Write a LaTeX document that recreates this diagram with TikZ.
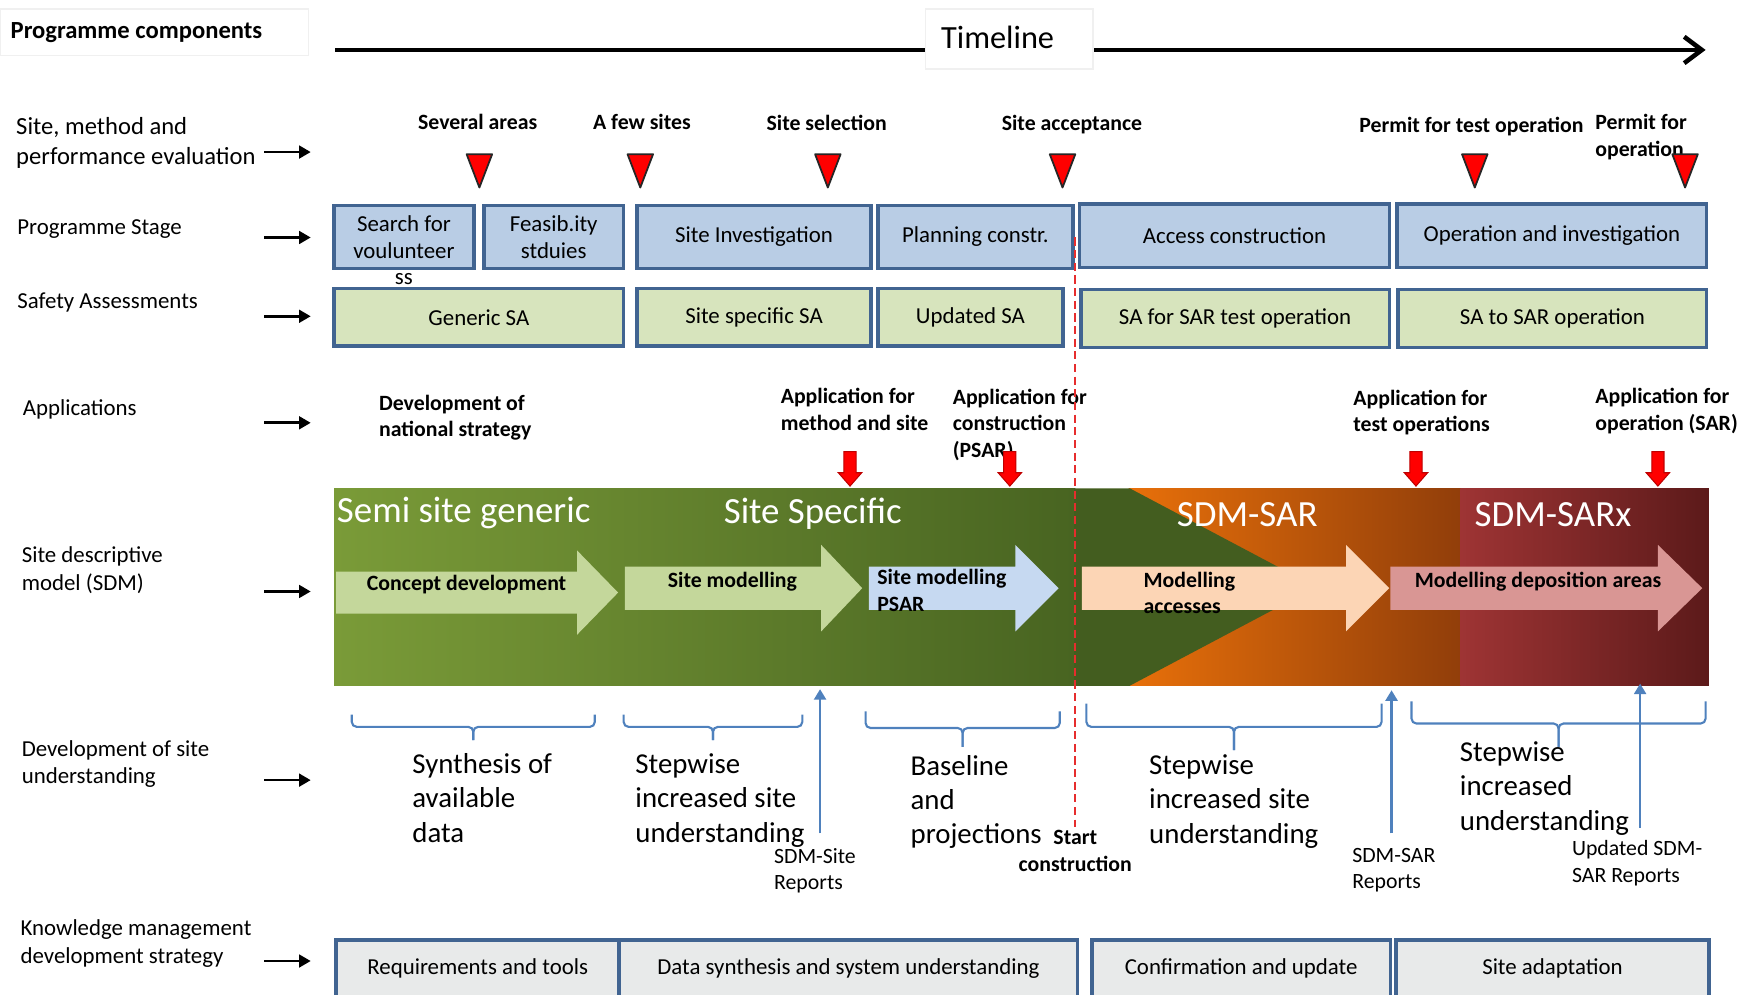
\documentclass[tikz,border=0pt]{standalone}
\usepackage{fontspec}
\setmainfont{Carlito}
\usetikzlibrary{arrows.meta}

\definecolor{stagefill}{RGB}{185,205,229}
\definecolor{boxedge}{RGB}{65,100,145}
\definecolor{safefill}{RGB}{215,228,189}
\definecolor{kmfill}{RGB}{232,234,234}
\definecolor{bracecol}{RGB}{79,129,189}
\definecolor{grnL}{RGB}{122,155,56}
\definecolor{grnD}{RGB}{72,100,33}
\definecolor{grnX}{RGB}{67,93,31}
\definecolor{orgL}{RGB}{232,112,10}
\definecolor{orgD}{RGB}{145,62,10}
\definecolor{redL}{RGB}{158,52,52}
\definecolor{redD}{RGB}{92,26,26}
\definecolor{arrGreen}{RGB}{196,215,155}
\definecolor{arrBlue}{RGB}{198,217,241}
\definecolor{arrPeach}{RGB}{252,213,181}
\definecolor{arrPink}{RGB}{217,150,148}
\definecolor{dashred}{RGB}{230,45,45}

% one drawing unit in cm
\newcommand{\pxu}{0.011097}

% rectangular node given by its corners: [style]{name}{x1}{y1}{x2}{y2}{text}
\newcommand{\sdbox}[7][]{%
  \pgfmathsetmacro\sdcx{(#3+#5)/2}%
  \pgfmathsetmacro\sdcy{(#4+#6)/2}%
  \pgfmathsetmacro\sdw{(#5-#3)*\pxu}%
  \pgfmathsetmacro\sdh{(#6-#4)*\pxu}%
  \node[#1,minimum width=\sdw cm,minimum height=\sdh cm] (#2) at (\sdcx,\sdcy) {#7};}

% right-pointing block arrow: {fill}{x start}{x head}{x tip}{y centre}{shaft half}{head half}
\newcommand{\blockarrow}[7]{%
  \fill[#1] (#2,#5-#6) -- (#3,#5-#6) -- (#3,#5-#7) -- (#4,#5) -- (#3,#5+#7)
    -- (#3,#5+#6) -- (#2,#5+#6) -- cycle;}

% small red downward arrow above the SDM band
\newcommand{\appdrop}[1]{%
  \draw[appdrop] (#1-5.5,407) -- (#1+5.5,407) -- (#1+5.5,426) -- (#1+10.5,426)
    -- (#1,438) -- (#1-10.5,426) -- (#1-5.5,426) -- cycle;}

% red milestone triangle
\newcommand{\milestone}[1]{%
  \draw[mstri] (#1-11.5,139) -- (#1+11.5,139) -- (#1,169) -- cycle;}

% downward brace: {x left}{x right}{y ends}{y bar}{y tip}
\newcommand{\downbrace}[5]{%
  \pgfmathsetmacro\brmid{(#1+#2)/2}%
  \draw[brc] (#1,#3) -- (#1,#4) -- (\brmid,#4) -- (\brmid,#5);
  \draw[brc] (#2,#3) -- (#2,#4) -- (\brmid,#4) -- (\brmid,#5);}

\begin{document}
% multi-line text nodes are placed by the baseline of their last line
\begin{tikzpicture}[x=0.011097cm, y=-0.011097cm,
  lblA/.style={font=\fontsize{7}{8.5}\selectfont, align=left, inner sep=0pt, anchor=base west},
  lbl/.style={font=\fontsize{6.5}{7.8}\selectfont, align=left, inner sep=0pt, anchor=base west},
  lblbold/.style={font=\bfseries\fontsize{7}{8.5}\selectfont, inner sep=0pt, anchor=base west},
  msl/.style={font=\bfseries\fontsize{6.2}{7.55}\selectfont, inner sep=0pt, anchor=base},
  mslL/.style={msl, anchor=base west, align=left},
  stagebox/.style={draw=boxedge, fill=stagefill, line width=1pt, inner sep=0pt,
    font=\fontsize{6.5}{7.6}\selectfont, align=center},
  safebox/.style={stagebox, fill=safefill},
  kmbox/.style={stagebox, fill=kmfill},
  hdrbox/.style={draw=black!6, fill=white, inner sep=0pt},
  rowarr/.style={-{Triangle[length=3.3pt,width=3.6pt]}, line width=0.75pt},
  tlarr/.style={-{Straight Barb[length=5pt,width=7.5pt]}, line width=1.3pt},
  mstri/.style={fill=red, draw=black!85, line width=0.5pt, line join=round},
  appdrop/.style={fill=red, draw=red!75!black, line width=0.3pt},
  brc/.style={draw=bracecol, line width=0.6pt, rounded corners=1.4pt},
  reparr/.style={draw=bracecol, line width=0.7pt, -{Triangle[length=3pt,width=3.4pt]}},
  startline/.style={draw=dashred, line width=0.6pt, dash pattern=on 2.3pt off 1.3pt},
  bandhdr/.style={text=white, font=\fontsize{10.5}{12.6}\selectfont, inner sep=0pt},
  txtbig/.style={font=\fontsize{8.2}{9.8}\selectfont, align=left, inner sep=0pt, anchor=base west},
  txtrep/.style={font=\fontsize{6.2}{7.55}\selectfont, align=left, inner sep=0pt, anchor=base west}]

\useasboundingbox (0,0) rectangle (1568,896);
\clip (0,0) rectangle (1568,896);

% ---------- header ----------
\sdbox[hdrbox]{pcbox}{0}{8}{278}{50}{}
\node[lblbold] (pc) at (9,35) {Programme components};

\coordinate (tlS) at (302,45);
\coordinate (tlE) at (1537,45);
\draw[tlarr] (tlS) -- (tlE);
\sdbox[hdrbox]{tlbox}{834}{8}{985}{62}{}
\node[font=\fontsize{9.2}{11}\selectfont, inner sep=0pt, anchor=base] (tltxt) at (899,43.5) {Timeline};

% ---------- row labels ----------
\node[lblA] (lSite) at (14,148) {Site, method and\\performance evaluation};
\node[lbl] (lStage) at (15,211) {Programme Stage};
\node[lbl] (lSafe) at (15,278) {Safety Assessments};
\node[lbl] (lApp) at (20,374) {Applications};
\node[lbl] (lSDM) at (19,532) {Site descriptive\\model (SDM)};
\node[lbl] (lDev) at (19,706) {Development of site\\understanding};
\node[lbl] (lKM) at (18,868) {Knowledge management\\development strategy};

\foreach \n/\y in {a/137, b/214, c/285, d/381, e/533, f/703, g/866} {
  \coordinate (row\n0) at (238,\y);
  \coordinate (row\n1) at (280,\y);
  \draw[rowarr] (row\n0) -- (row\n1);
}

% ---------- milestones ----------
\node[msl] (m1) at (430.5,117) {Several areas};
\node[msl] (m2) at (578.5,117) {A few sites};
\node[msl] (m3) at (745,118) {Site selection};
\node[msl] (m4) at (966,118) {Site acceptance};
\node[msl] (m5) at (1326,119) {Permit for test operation};
\node[mslL] (m6) at (1437,141) {Permit for\\operation};
\foreach \x in {432,577,746,957.5,1329,1518.5} { \milestone{\x} }

% ---------- programme stages ----------
\sdbox[stagebox]{stg1}{301}{185}{427}{242}{Search for\\voulunteer}
\node[font=\fontsize{6.5}{7.6}\selectfont, inner sep=0pt, anchor=base] (stg1x) at (364,256) {ss};
\sdbox[stagebox]{stg2}{436}{185}{562}{242}{Feasib.ity\\stduies}
\sdbox[stagebox]{stg3}{574}{185}{785}{242}{Site Investigation}
\sdbox[stagebox]{stg4}{791}{185}{967}{242}{Planning constr.}
\sdbox[stagebox]{stg5}{973}{184}{1252}{241}{Access construction}
\sdbox[stagebox]{stg6}{1259}{184}{1538}{241}{Operation and investigation}

% ---------- safety assessments ----------
\sdbox[safebox]{sa1}{301}{260}{562}{312}{Generic SA}
\sdbox[safebox]{sa2}{574}{260}{785}{312}{Site specific SA}
\sdbox[safebox]{sa3}{791}{260}{958}{312}{Updated SA}
\sdbox[safebox]{sa4}{974}{261}{1252}{313}{SA for SAR test operation}
\sdbox[safebox]{sa5}{1260}{261}{1538}{313}{SA to SAR operation}

% ---------- applications ----------
\node[mslL] (ap1) at (341,393.5) {Development of\\national strategy};
\node[mslL] (ap2) at (703,387.5) {Application for\\method and site};
\node[mslL] (ap3) at (858,412) {Application for\\construction\\(PSAR)};
\node[mslL] (ap4) at (1219,389) {Application for\\test operations};
\node[mslL] (ap5) at (1437,387.5) {Application for\\operation (SAR)};
\foreach \x in {766,910,1276,1494} { \appdrop{\x} }

% ---------- site descriptive model band ----------
\shade[left color=grnL, right color=grnD] (301,440) rectangle (969,618);
\shade[left color=orgL, right color=orgD] (1017,440) rectangle (1316.5,618);
\shade[left color=redL, right color=redD] (1316,440) rectangle (1540,618);
\fill[grnX] (968,440) -- (1018,440) -- (1186,529) -- (1018,618) -- (968,618) -- cycle;

\node[bandhdr, anchor=base west] (h1) at (303,471) {Semi site generic};
\node[bandhdr, anchor=base] (h2) at (732.5,472) {Site Specific};
\node[bandhdr, anchor=base] (h3) at (1124,474.5) {SDM-SAR};
\node[bandhdr, anchor=base] (h4) at (1399.5,474.5) {SDM-SARx};

\blockarrow{arrGreen}{303}{520}{557}{534}{19}{38}
\blockarrow{arrGreen}{563}{740}{777}{530}{19.5}{39}
\blockarrow{arrBlue}{783}{915}{954}{530}{19.5}{39}
\blockarrow{arrPeach}{975}{1213}{1252}{530}{19.5}{39}
\blockarrow{arrPink}{1253}{1494}{1534}{530}{19.5}{39}

\node[msl] (s1) at (420.5,532) {Concept development};
\node[msl] (s2) at (660,529) {Site modelling};
\node[mslL] (s3) at (790,551) {Site modelling\\PSAR};
\node[mslL] (s4) at (1030,553) {Modelling\\accesses};
\node[msl] (s5) at (1386,529) {Modelling deposition areas};

% ---------- start of construction ----------
\coordinate (dA) at (969,214);
\coordinate (dB) at (969,745);
\draw[startline] (dA) -- (dB);
\node[msl, align=center] (sc) at (969,785) {Start\\construction};

% ---------- development of site understanding ----------
\downbrace{317}{536}{644}{655}{667}
\downbrace{562}{723}{644}{655}{667}
\downbrace{780}{955}{641}{656}{673}
\downbrace{979}{1245}{634}{655}{676}
\downbrace{1272}{1537}{632}{652}{673}

\node[txtbig] (u1) at (371,759) {Synthesis of\\available\\data};
\node[txtbig] (u2) at (572,759) {Stepwise\\increased site\\understanding};
\node[txtbig] (u3) at (820,760.5) {Baseline\\and\\projections};
\node[txtbig] (u4) at (1035,760) {Stepwise\\increased site\\understanding};
\node[txtbig] (u5) at (1315,748) {Stepwise\\increased\\understanding};

\node[txtrep] (r1) at (697,802) {SDM-Site\\Reports};
\node[txtrep] (r2) at (1218,801) {SDM-SAR\\Reports};
\node[txtrep] (r3) at (1416,795) {Updated SDM-\\SAR Reports};

\coordinate (r1a) at (739,751);  \coordinate (r1b) at (739,621);
\coordinate (r2a) at (1254,751); \coordinate (r2b) at (1254,622);
\coordinate (r3a) at (1478,746); \coordinate (r3b) at (1478,616);
\draw[reparr] (r1a) -- (r1b);
\draw[reparr] (r2a) -- (r2b);
\draw[reparr] (r3a) -- (r3b);

% ---------- knowledge management ----------
\sdbox[kmbox]{km1}{303}{847}{558}{899}{Requirements and tools}
\sdbox[kmbox]{km2}{558}{847}{971}{899}{Data synthesis and system understanding}
\sdbox[kmbox]{km3}{984}{847}{1253}{899}{Confirmation and update}
\sdbox[kmbox]{km4}{1258}{847}{1540}{899}{Site adaptation}

\end{tikzpicture}
\end{document}
